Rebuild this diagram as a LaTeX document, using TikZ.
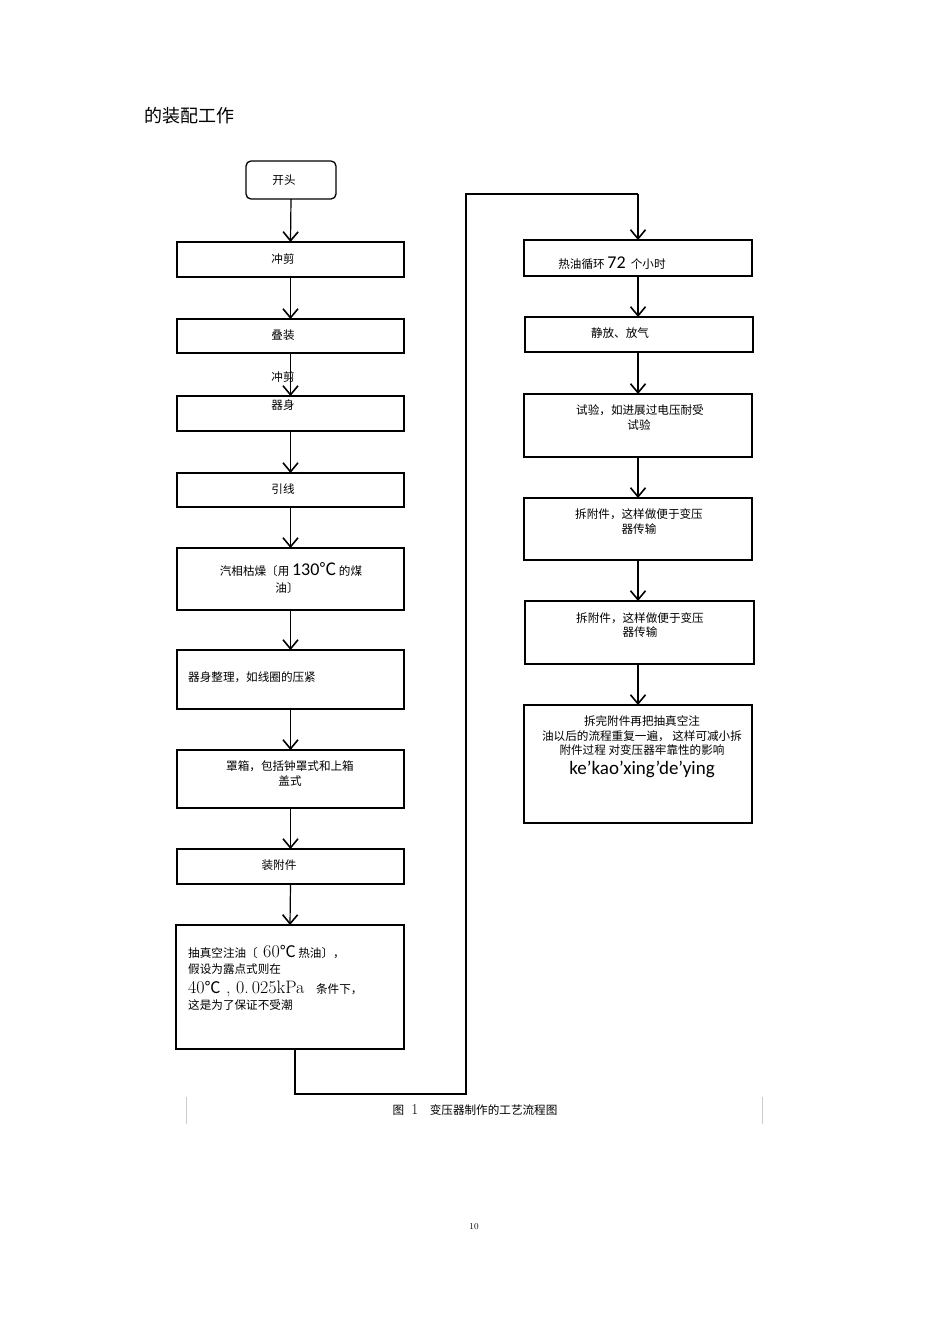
\documentclass[tikz,border=0pt]{standalone}
\usepackage{fontspec}
\newfontfamily\cjk{Noto Sans CJK SC}
\newfontfamily\lat{Carlito}
\usetikzlibrary{arrows.meta}
\begin{document}
\begin{tikzpicture}[x=1pt,y=-1pt,
 box/.style={draw, line width=1.3pt, inner sep=0pt, outer sep=0pt, minimum width=227pt},
 lbl/.style={font=\cjk\fontsize{11.6}{13}\selectfont, inner sep=0pt},
 big/.style={font=\lat\fontsize{19}{21}\selectfont, inner sep=0pt},
 arr/.style={-{Straight Barb[length=9pt,width=15pt,line width=1.6pt]}, line width=1.2pt},
 con/.style={line width=1.2pt}]
\useasboundingbox (0,0) rectangle (950,1344);
% title
\node[anchor=west, inner sep=0pt, font=\cjk\fontsize{18}{20}\selectfont] (title) at (144,116) {的装配工作};
% left column
\node[box, rounded corners=5pt, minimum width=90pt, minimum height=38pt] (s) at (291,180) {};
\node[lbl] (ts) at (284,180) {开头};
\node[box, minimum height=35pt] (b1) at (290.5,259.5) {};
\node[lbl] (t1) at (283,259) {冲剪};
\node[box, minimum height=34pt] (b2) at (290.5,336) {};
\node[lbl] (t2) at (283,335) {叠装};
\node[lbl] (tf) at (283,377) {冲剪};
\node[box, minimum height=35pt] (b3) at (290.5,413.5) {};
\node[lbl] (t3) at (283,405) {器身};
\node[box, minimum height=34pt] (b4) at (290.5,490) {};
\node[lbl] (t4) at (283,489) {引线};
\node[box, minimum height=62pt] (b5) at (290.5,579) {};
\node[lbl] (t5a) at (291,570) {汽相枯燥〔用 {\lat\fontsize{18}{19}\selectfont 130}{\cjk\fontsize{17}{19}\selectfont ℃} 的煤};
\node[lbl] (t5b) at (287,588) {油〕};
\node[box, minimum height=59pt] (b6) at (290.5,679.5) {};
\node[lbl, anchor=west] (t6) at (188,677) {器身整理，如线圈的压紧};
\node[box, minimum height=58pt] (b7) at (290.5,779) {};
\node[lbl] (t7a) at (290,766) {罩箱，包括钟罩式和上箱};
\node[lbl] (t7b) at (290,781) {盖式};
\node[box, minimum height=35pt] (b8) at (290.5,866.5) {};
\node[lbl] (t8) at (279,865) {装附件};
\node[box, minimum height=124pt, minimum width=228pt] (b9) at (290,987) {};
\node[lbl, anchor=west] (t9a) at (188,952) {抽真空注油〔{\rmfamily\fontsize{18}{19}\selectfont\ 60}{\cjk\fontsize{16}{18}\selectfont ℃} 热油〕，};
\node[lbl, anchor=west] (t9b) at (188,969) {假设为露点式则在};
\node[lbl, anchor=west] (t9c) at (188,989) {{\rmfamily\fontsize{18}{19}\selectfont 40}{\cjk\fontsize{16}{18}\selectfont ℃}{\rmfamily\fontsize{18}{19}\selectfont\ ,\ 0.\,025kPa}\quad 条件下，};
\node[lbl, anchor=west] (t9d) at (188,1005) {这是为了保证不受潮};
\draw[arr] (s.south) -- (b1.north);
\draw[arr] (b1.south) -- (b2.north);
\draw[arr] (b2.south) -- (b3.north);
\draw[arr] (b3.south) -- (b4.north);
\draw[arr] (b4.south) -- (b5.north);
\draw[arr] (b5.south) -- (b6.north);
\draw[arr] (b6.south) -- (b7.north);
\draw[arr] (b7.south) -- (b8.north);
\draw[arr] (b8.south) -- (b9.north);
% right column
\node[box, minimum width=228pt, minimum height=36pt] (r1) at (638,258) {};
\node[lbl] (u1) at (612,263) {热油循环 {\lat\fontsize{18}{19}\selectfont 72}\ \ 个小时};
\node[box, minimum width=228pt, minimum height=35pt] (r2) at (639,334.5) {};
\node[lbl] (u2) at (620,333) {静放、放气};
\node[box, minimum width=228pt, minimum height=63pt] (r3) at (638,425.5) {};
\node[lbl] (u3a) at (640,410) {试验，如进展过电压耐受};
\node[lbl] (u3b) at (639,425) {试验};
\node[box, minimum width=228pt, minimum height=62pt] (r4) at (638,529) {};
\node[lbl] (u4a) at (639,514) {拆附件，这样做便于变压};
\node[lbl] (u4b) at (639,529) {器传输};
\node[box, minimum width=229pt, minimum height=63pt] (r5) at (639.5,632.5) {};
\node[lbl] (u5a) at (640,618) {拆附件，这样做便于变压};
\node[lbl] (u5b) at (640,632) {器传输};
\node[box, minimum width=228pt, minimum height=118pt] (r6) at (638,764) {};
\node[lbl] (u6a) at (642,721) {拆完附件再把抽真空注};
\node[lbl] (u6b) at (642,736) {油以后的流程重复一遍， 这样可减小拆};
\node[lbl] (u6c) at (642,750) {附件过程 对变压器牢靠性的影响};
\node[big] (u6d) at (642,769) {ke’kao’xing’de’ying};
\draw[arr] (r1.south -| 638,0) -- (r2.north -| 638,0);
\draw[arr] (r2.south -| 638,0) -- (r3.north);
\draw[arr] (r3.south) -- (r4.north);
\draw[arr] (r4.south) -- (r5.north -| 638,0);
\draw[arr] (r5.south -| 638,0) -- (r6.north);
% connector between columns
\coordinate (c1) at (295,1094);
\coordinate (c2) at (466,1094);
\coordinate (c3) at (466,194);
\coordinate (c4) at (638,194);
\draw[con] (b9.south -| c1) -- (c1) -- (c2) -- (c3) -- (c4);
\draw[arr] (c4) -- (r1.north);
% caption
\draw[gray!40, line width=0.6pt] (186,1097) -- (186,1124);
\draw[gray!40, line width=0.6pt] (762,1097) -- (762,1124);
\node[lbl] (cap) at (475,1110) {图 {\rmfamily\fontsize{15}{17}\selectfont\ 1}\quad 变压器制作的工艺流程图};
\node[inner sep=0pt, font=\rmfamily\fontsize{9}{11}\selectfont] (pg) at (474,1227) {10};
\end{tikzpicture}
\end{document}
